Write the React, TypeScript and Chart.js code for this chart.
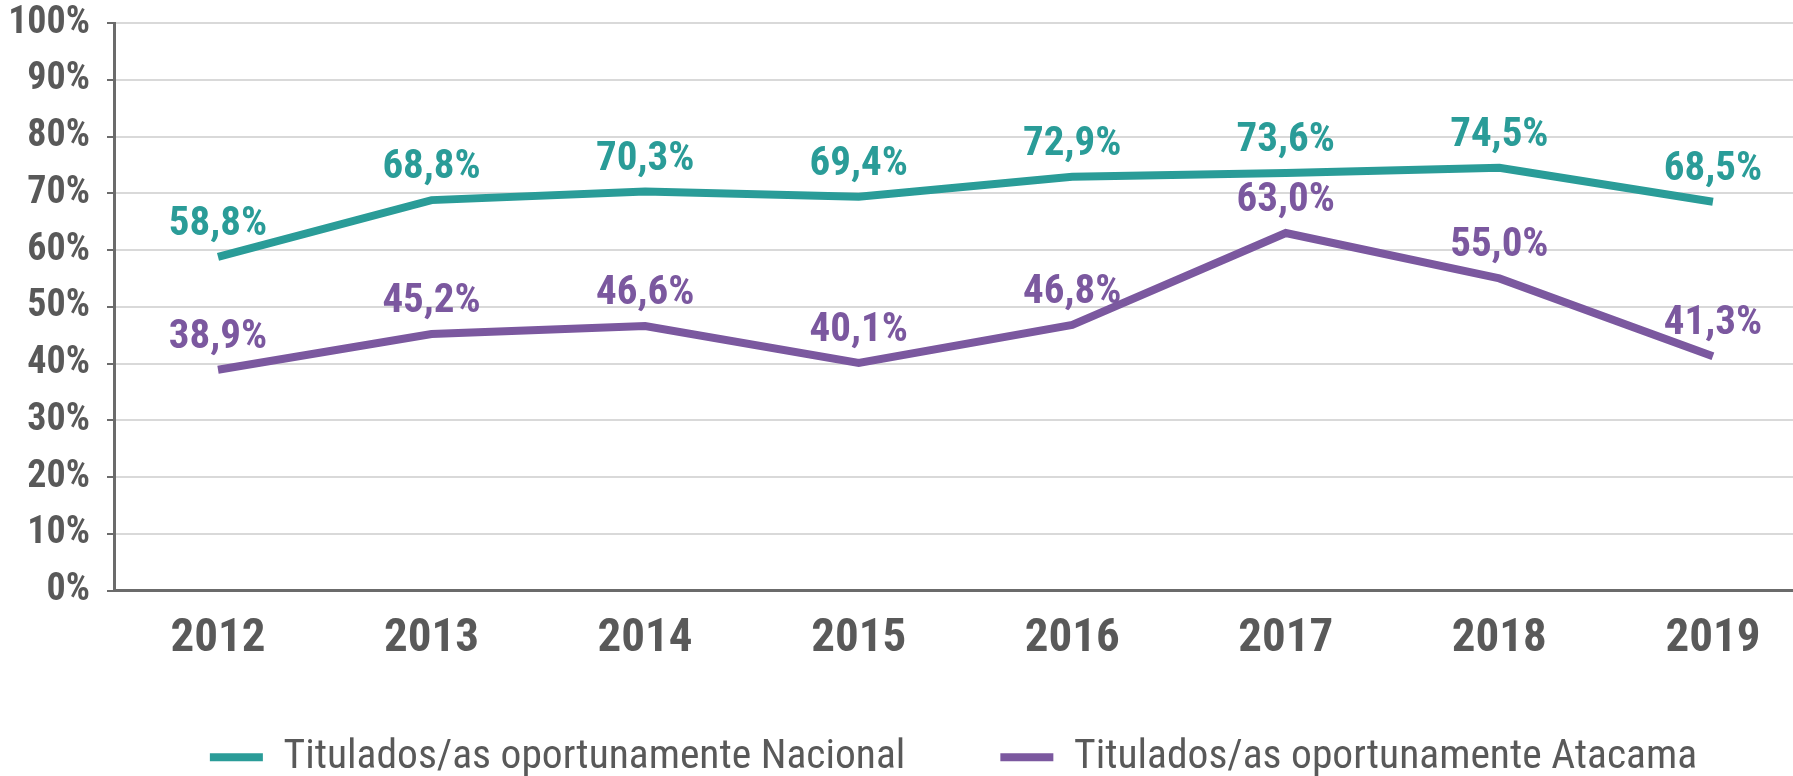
import React, { useEffect, useRef } from "react";
import { Chart, registerables } from "chart.js";

Chart.register(...registerables);

const years = [2012, 2013, 2014, 2015, 2016, 2017, 2018, 2019];
const nacional = [58.8, 68.8, 70.3, 69.4, 72.9, 73.6, 74.5, 68.5];
const atacama = [38.9, 45.2, 46.6, 40.1, 46.8, 63.0, 55.0, 41.3];
const seriesNames = [
  "Titulados/as oportunamente Nacional",
  "Titulados/as oportunamente Atacama",
];
const yTicks = [0, 10, 20, 30, 40, 50, 60, 70, 80, 90, 100];

const TEAL = "#2A9C98";
const PURPLE = "#7B589F";
const TEXT = "#595959";
const AXIS = "#6B6B6B";
const GRID = "#D9D9D9";
const FONT = "'Roboto Condensed', 'Liberation Sans Narrow', 'DejaVu Sans Condensed', 'Liberation Sans', sans-serif";

const W = 1793;
const H = 788;

const labelPlugin = {
  id: "valueLabels",
  afterDatasetsDraw(chart: any) {
    const ctx = chart.ctx;
    ctx.save();
    ctx.font = `bold 41px ${FONT}`;
    ctx.textAlign = "center";
    ctx.textBaseline = "alphabetic";
    chart.data.datasets.forEach((ds: any, i: number) => {
      const meta = chart.getDatasetMeta(i);
      ctx.fillStyle = ds.borderColor;
      meta.data.forEach((pt: any, j: number) => {
        const v = ds.data[j].y;
        const txt = v.toFixed(1).replace(".", ",") + "%";
        ctx.fillText(txt, pt.x, pt.y - 22);
      });
    });
    ctx.restore();
  },
};

export default function App() {
  const ref = useRef<HTMLCanvasElement | null>(null);
  useEffect(() => {
    if (!ref.current) return;
    const chart = new Chart(ref.current, {
      type: "line",
      data: {
        datasets: [
          {
            label: seriesNames[0],
            data: years.map((y, i) => ({ x: y, y: nacional[i] })),
            borderColor: TEAL,
            backgroundColor: TEAL,
            borderWidth: 8,
            pointRadius: 0,
            tension: 0,
            borderCapStyle: "butt",
            borderJoinStyle: "miter",
          },
          {
            label: seriesNames[1],
            data: years.map((y, i) => ({ x: y, y: atacama[i] })),
            borderColor: PURPLE,
            backgroundColor: PURPLE,
            borderWidth: 8,
            pointRadius: 0,
            tension: 0,
            borderCapStyle: "butt",
            borderJoinStyle: "miter",
          },
        ],
      },
      options: {
        animation: false,
        responsive: false,
        maintainAspectRatio: false,
        layout: { padding: { top: 0, left: 0, right: 0, bottom: 0 } },
        plugins: {
          tooltip: { enabled: false },
          legend: {
            display: true,
            position: "bottom",
            align: "center",
            fullSize: false,
            labels: {
              boxWidth: 53,
              boxHeight: 8,
              padding: 95,
              color: TEXT,
              font: { family: FONT, size: 41.5 },
              generateLabels: (c: any) =>
                Chart.defaults.plugins.legend.labels
                  .generateLabels(c)
                  .map((it: any) => ({ ...it, lineWidth: 0 })),
            },
          },
        },
        scales: {
          x: {
            type: "linear",
            min: 2011.513,
            max: 2019.375,
            bounds: "data",
            grid: { display: false, drawTicks: false },
            border: { display: true, color: AXIS, width: 3 },
            afterBuildTicks: (scale: any) => {
              scale.ticks = years.map((v) => ({ value: v }));
            },
            afterFit: (scale: any) => {
              scale.height = 51;
            },
            ticks: {
              mirror: true,
              padding: -77,
              color: TEXT,
              font: { family: FONT, size: 47, weight: "bold" },
              maxRotation: 0,
              autoSkip: false,
              callback: (v: any) => String(v),
            },
          },
          y: {
            min: 0,
            max: 100,
            afterBuildTicks: (scale: any) => {
              scale.ticks = yTicks.map((v) => ({ value: v }));
            },
            afterFit: (scale: any) => {
              scale.width = 114;
            },
            grid: {
              color: GRID,
              lineWidth: 2,
              tickLength: 7,
              tickColor: AXIS,
              tickWidth: 2,
            },
            border: { display: true, color: AXIS, width: 3 },
            ticks: {
              padding: 17,
              autoSkip: false,
              color: TEXT,
              font: { family: FONT, size: 38, weight: "bold", lineHeight: 0.32 },
              callback: (v: any) => v + "%",
            },
          },
        },
      },
      plugins: [labelPlugin],
    } as any);
    return () => chart.destroy();
  }, []);

  return (
    <div style={{ position: "fixed", left: 0, top: 0, width: W, height: H, background: "#fff" }}>
      <canvas ref={ref} width={W} height={H} style={{ width: W, height: H, display: "block" }} />
    </div>
  );
}
